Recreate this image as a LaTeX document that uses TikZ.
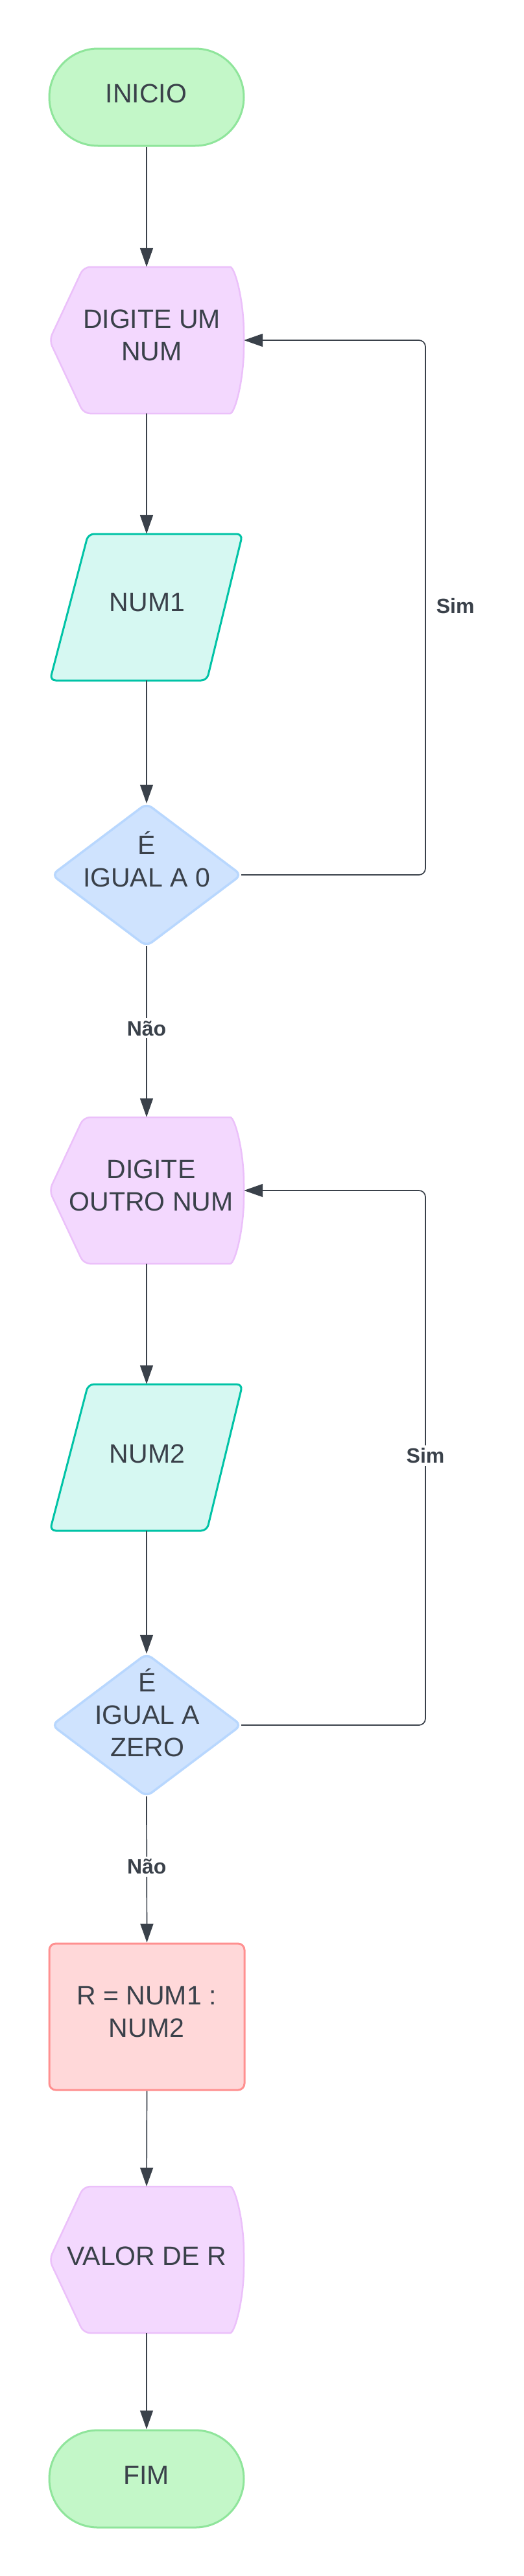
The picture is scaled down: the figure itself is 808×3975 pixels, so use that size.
\documentclass[tikz,border=0pt]{standalone}
\usepackage{fontspec}
\setmainfont{Liberation Sans}
\usetikzlibrary{arrows.meta}
\definecolor{ink}{HTML}{3A414A}
\definecolor{termfill}{HTML}{C3F7C8}
\definecolor{termline}{HTML}{8FE59B}
\definecolor{dispfill}{HTML}{F3D8FE}
\definecolor{displine}{HTML}{EBC0FA}
\definecolor{parafill}{HTML}{D6F8F2}
\definecolor{paraline}{HTML}{00C3A6}
\definecolor{diafill}{HTML}{CFE3FE}
\definecolor{dialine}{HTML}{B8D7FE}
\definecolor{procfill}{HTML}{FFD8D9}
\definecolor{procline}{HTML}{FF9090}
\tikzset{
  dispstyle/.style={fill=dispfill, draw=displine, line width=2.5pt, rounded corners=10pt},
  parastyle/.style={fill=parafill, draw=paraline, line width=3pt, rounded corners=9pt},
  diastyle/.style={fill=diafill, draw=dialine, line width=3.5pt, rounded corners=10pt},
  term/.style={draw=termline, fill=termfill, line width=3pt, rounded corners=75pt,
    minimum width=300pt, minimum height=150pt, inner sep=0pt},
  proc/.style={draw=procline, fill=procfill, line width=3pt, rounded corners=10pt,
    minimum width=301pt, minimum height=226pt, inner sep=0pt},
  holder/.style={minimum width=300pt, minimum height=226pt, inner sep=0pt},
  diaholder/.style={minimum width=292pt, minimum height=220pt, inner sep=0pt},
  txt/.style={text=ink, font=\fontsize{41}{50}\selectfont, align=center, inner sep=0pt},
  conn/.style={draw=ink, line width=1.7pt, -{Triangle[length=29pt,width=20pt]}},
  lbl/.style={text=ink, font=\fontsize{32}{38}\selectfont\bfseries, fill=white, inner sep=4pt},
  simr/.style={text=ink, font=\fontsize{32}{38}\selectfont\bfseries, inner sep=0pt, anchor=west, xshift=16pt},
}
\newcommand\dispbg[3]{%
  \filldraw[dispstyle] (#1-150,#2) -- (#1-97,#2-#3) -- (#1+119,#2-#3)
    .. controls (#1+136,#2-#3) and (#1+150,#2-#3*0.55) .. (#1+150,#2)
    .. controls (#1+150,#2+#3*0.55) and (#1+136,#2+#3) .. (#1+119,#2+#3)
    -- (#1-97,#2+#3) -- cycle;}
\newcommand\parabg[2]{%
  \filldraw[parastyle] (#1-90,#2-113) -- (#1+148,#2-113) -- (#1+93,#2+113) -- (#1-149,#2+113) -- cycle;}
\newcommand\diabg[2]{%
  \filldraw[diastyle] (#1,#2-110) -- (#1+146,#2) -- (#1,#2+110) -- (#1-146,#2) -- cycle;}
\begin{document}
\begin{tikzpicture}[x=1pt,y=-1pt]
\fill[white] (0,0) rectangle (808,3975);
\useasboundingbox (0,0) rectangle (808,3975);

% shapes
\node[term] (inicio) at (226,150) {};
\dispbg{226}{525}{113}
\node[holder] (d1) at (226,525) {};
\parabg{226}{937}
\node[holder] (p1) at (226,937) {};
\diabg{226}{1350}
\node[diaholder] (q1) at (226,1350) {};
\dispbg{226}{1837}{113}
\node[holder] (d2) at (226,1837) {};
\parabg{226}{2249}
\node[holder] (p2) at (226,2249) {};
\diabg{226}{2662}
\node[diaholder] (q2) at (226,2662) {};
\node[proc] (calc) at (226.5,3112) {};
\dispbg{226}{3487}{113}
\node[holder] (d3) at (226,3487) {};
\node[term] (fim) at (226,3825) {};

% texts
\node[txt] (tinicio) at (225.5,144) {INICIO};
\node[txt] (td1) at (234,517) {DIGITE UM\\NUM};
\node[txt] (tp1) at (227,930) {NUM1};
\node[txt] (tq1) at (226,1326) {É\\IGUAL A 0};
\node[txt] (td2) at (233,1829.5) {DIGITE\\OUTRO NUM};
\node[txt] (tp2) at (227,2243.5) {NUM2};
\node[txt] (tq2) at (227,2643) {É\\IGUAL A\\ZERO};
\node[txt] (tcalc) at (226,3105) {R = NUM1 :\\NUM2};
\node[txt] (td3) at (226,3481) {VALOR DE R};
\node[txt] (tfim) at (225.5,3819) {FIM};

% connectors
\coordinate (a1) at (656,1350);
\coordinate (b1) at (656,525);
\coordinate (a2) at (656,2662);
\coordinate (b2) at (656,1837);
\draw[conn] (inicio.south) -- (d1.north);
\draw[conn] (d1.south) -- (p1.north);
\draw[conn] (p1.south) -- (q1.north);
\draw[conn] (q1.south) -- node[lbl,pos=0.48]{Não} (d2.north);
\draw[conn] (d2.south) -- (p2.north);
\draw[conn] (p2.south) -- (q2.north);
\draw[conn] (q2.south) -- node[lbl,pos=0.48]{Não} (calc.north);
\draw[conn] (calc.south) -- (d3.north);
\draw[conn] (d3.south) -- (fim.north);
\draw[conn, rounded corners=10pt] (q1.east) -- (a1) -- node[simr,pos=0.503]{Sim} (b1) -- (d1.east);
\draw[conn, rounded corners=10pt] (q2.east) -- (a2) -- node[lbl,pos=0.504]{Sim} (b2) -- (d2.east);
\end{tikzpicture}
\end{document}
